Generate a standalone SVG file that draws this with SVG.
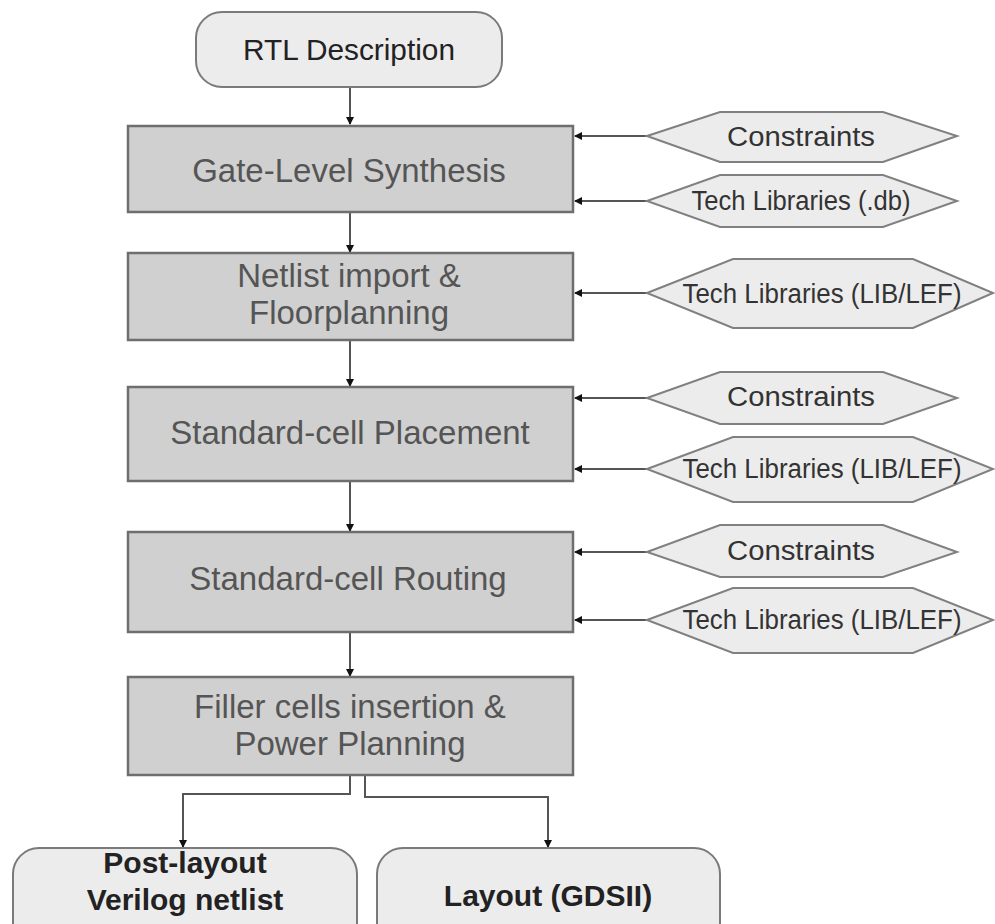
<svg xmlns="http://www.w3.org/2000/svg" width="995" height="924" viewBox="0 0 995 924">
  <defs>
    <marker id="arr" markerWidth="8" markerHeight="8" refX="7" refY="4" orient="auto" markerUnits="userSpaceOnUse">
      <path d="M0,0 L8,4 L0,8 Z" fill="#111"/>
    </marker>
    <style>
      .step { fill: #d0d0d0; stroke: #6e6e6e; stroke-width: 2.5; }
      .term { fill: #ececec; stroke: #7a7a7a; stroke-width: 2; }
      .input { fill: #ececec; stroke: #808080; stroke-width: 2; }
      .conn { fill: none; stroke: #555; stroke-width: 2; }
      .stepText { font-family: "Liberation Sans", Arial, sans-serif; font-size: 33px; fill: #555; text-anchor: middle; }
      .termText { font-family: "Liberation Sans", Arial, sans-serif; font-size: 30px; fill: #222; text-anchor: middle; }
      .bold { font-weight: bold; }
      .inText { font-family: "Liberation Sans", Arial, sans-serif; font-size: 27px; fill: #333; text-anchor: middle; }
    </style>
  </defs>
  <rect width="995" height="924" fill="#ffffff"/>

  <!-- connectors -->
  <g id="connectors">
    <line class="conn" x1="350" y1="87" x2="350" y2="124" marker-end="url(#arr)"/>
    <line class="conn" x1="350" y1="212" x2="350" y2="252" marker-end="url(#arr)"/>
    <line class="conn" x1="350" y1="340" x2="350" y2="386" marker-end="url(#arr)"/>
    <line class="conn" x1="350" y1="481" x2="350" y2="531" marker-end="url(#arr)"/>
    <line class="conn" x1="350" y1="632" x2="350" y2="676" marker-end="url(#arr)"/>
    <polyline class="conn" points="350,775 350,794 183,794 183,847" marker-end="url(#arr)"/>
    <polyline class="conn" points="365,775 365,797 548,797 548,847" marker-end="url(#arr)"/>

    <line class="conn" x1="647" y1="136" x2="575" y2="136" marker-end="url(#arr)"/>
    <line class="conn" x1="647" y1="201" x2="575" y2="201" marker-end="url(#arr)"/>
    <line class="conn" x1="647" y1="293" x2="575" y2="293" marker-end="url(#arr)"/>
    <line class="conn" x1="647" y1="398" x2="575" y2="398" marker-end="url(#arr)"/>
    <line class="conn" x1="647" y1="469" x2="575" y2="469" marker-end="url(#arr)"/>
    <line class="conn" x1="647" y1="552" x2="575" y2="552" marker-end="url(#arr)"/>
    <line class="conn" x1="647" y1="620" x2="575" y2="620" marker-end="url(#arr)"/>
  </g>

  <!-- flow start -->
  <g id="rtl">
    <rect class="term" x="196" y="12" width="306" height="75" rx="26"/>
    <text class="termText" x="349" y="60" font-size="32" textLength="212" lengthAdjust="spacingAndGlyphs">RTL Description</text>
  </g>

  <!-- process steps -->
  <g id="synthesis">
    <rect class="step" x="128" y="126" width="445" height="86"/>
    <text class="stepText" x="349" y="182">Gate-Level Synthesis</text>
  </g>
  <g id="floorplan">
    <rect class="step" x="128" y="253" width="445" height="87"/>
    <text class="stepText" x="349" y="287">Netlist import &amp;</text>
    <text class="stepText" x="349" y="324">Floorplanning</text>
  </g>
  <g id="placement">
    <rect class="step" x="128" y="387" width="445" height="94"/>
    <text class="stepText" x="350" y="444">Standard-cell Placement</text>
  </g>
  <g id="routing">
    <rect class="step" x="128" y="532" width="445" height="100"/>
    <text class="stepText" x="348" y="590">Standard-cell Routing</text>
  </g>
  <g id="filler">
    <rect class="step" x="128" y="677" width="445" height="98"/>
    <text class="stepText" x="350" y="718">Filler cells insertion &amp;</text>
    <text class="stepText" x="350" y="755">Power Planning</text>
  </g>

  <!-- outputs -->
  <g id="netlist-out">
    <rect class="term" x="13" y="848" width="344" height="110" rx="26"/>
    <text class="termText bold" x="185" y="873">Post-layout</text>
    <text class="termText bold" x="185" y="910">Verilog netlist</text>
  </g>
  <g id="gdsii-out">
    <rect class="term" x="377" y="848" width="343" height="110" rx="26"/>
    <text class="termText bold" x="548" y="906">Layout (GDSII)</text>
  </g>

  <!-- side inputs -->
  <g id="constraints-1">
    <polygon class="input" points="647,136 720,112 883,112 957,136 883,162 720,162"/>
    <text class="inText" x="801" y="146" textLength="148" lengthAdjust="spacingAndGlyphs">Constraints</text>
  </g>
  <g id="techlib-db">
    <polygon class="input" points="647,201 720,175 883,175 957,201 883,227 720,227"/>
    <text class="inText" x="801" y="210" textLength="219" lengthAdjust="spacingAndGlyphs">Tech Libraries (.db)</text>
  </g>
  <g id="techlib-1">
    <polygon class="input" points="647,293 733,259 913,259 993,293 913,328 733,328"/>
    <text class="inText" x="822" y="303" textLength="279" lengthAdjust="spacingAndGlyphs">Tech Libraries (LIB/LEF)</text>
  </g>
  <g id="constraints-2">
    <polygon class="input" points="647,398 720,372 883,372 957,398 883,424 720,424"/>
    <text class="inText" x="801" y="406" textLength="148" lengthAdjust="spacingAndGlyphs">Constraints</text>
  </g>
  <g id="techlib-2">
    <polygon class="input" points="647,469 733,437 913,437 993,469 913,502 733,502"/>
    <text class="inText" x="822" y="478" textLength="279" lengthAdjust="spacingAndGlyphs">Tech Libraries (LIB/LEF)</text>
  </g>
  <g id="constraints-3">
    <polygon class="input" points="647,552 720,525 883,525 957,552 883,577 720,577"/>
    <text class="inText" x="801" y="560" textLength="148" lengthAdjust="spacingAndGlyphs">Constraints</text>
  </g>
  <g id="techlib-3">
    <polygon class="input" points="647,620 733,588 913,588 993,620 913,653 733,653"/>
    <text class="inText" x="822" y="629" textLength="279" lengthAdjust="spacingAndGlyphs">Tech Libraries (LIB/LEF)</text>
  </g>
</svg>
